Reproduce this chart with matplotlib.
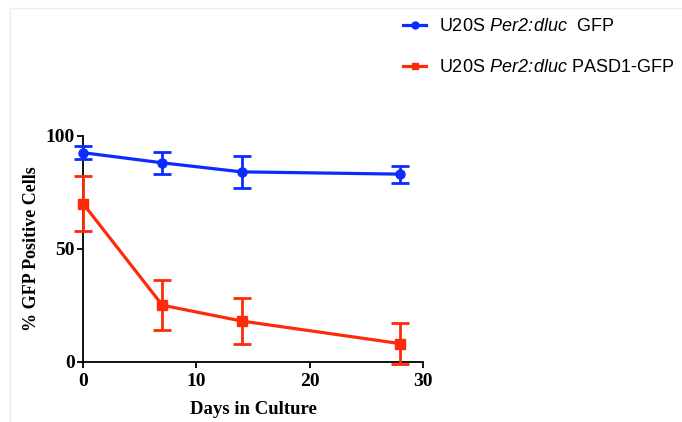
import matplotlib
matplotlib.use('Agg')
import matplotlib.pyplot as plt
from matplotlib.lines import Line2D

# datos
days = [0, 7, 14, 28]
gfp_mean = [92.5, 88, 84, 83]
gfp_err = [3, 5, 7, 3.8]
pasd1_mean = [70, 25, 18, 8]
pasd1_err = [12, 11, 10, 9]

blue = '#0a2cff'
red = '#ff2a0a'

plt.rcParams['mathtext.fontset'] = 'custom'
plt.rcParams['mathtext.it'] = 'Liberation Sans:italic'
plt.rcParams['mathtext.rm'] = 'Liberation Sans:italic'

fig = plt.figure(figsize=(6.82, 4.22), dpi=100)
ax = fig.add_axes([0.1217, 0.1429, 0.4985, 0.5355])

ax.errorbar(days, gfp_mean, yerr=gfp_err, color=blue, marker='o', markersize=6.5,
            linewidth=2.3, elinewidth=2, capsize=6.5, capthick=2, clip_on=False, zorder=3)
ax.errorbar(days, pasd1_mean, yerr=pasd1_err, color=red, marker='s', markersize=6.5,
            linewidth=2.3, elinewidth=2, capsize=6.5, capthick=2, clip_on=False, zorder=3)

ax.set_xlim(0, 30)
ax.set_ylim(0, 100)
ax.set_xticks([0, 10, 20, 30])
ax.set_yticks([0, 50, 100])
ax.spines['top'].set_visible(False)
ax.spines['right'].set_visible(False)
for s in ['left', 'bottom']:
    ax.spines[s].set_linewidth(1.3)
ax.tick_params(direction='out', length=4.5, width=1.3)
ax.tick_params(axis='y', pad=1.5)
ax.tick_params(axis='x', pad=3.5)

serif = {'family': 'Liberation Serif', 'weight': 'bold'}
for lab in ax.get_xticklabels() + ax.get_yticklabels():
    lab.set_fontproperties('Liberation Serif')
    lab.set_fontweight('bold')
    lab.set_fontsize(14)
ax.set_xlabel('Days in Culture', fontdict=serif, fontsize=13.5, labelpad=8)
ax.set_ylabel('% GFP Positive Cells', fontdict=serif, fontsize=13, labelpad=4)

# leyenda
handles = [
    Line2D([], [], color=blue, marker='o', markersize=5, linewidth=2.3),
    Line2D([], [], color=red, marker='s', markersize=5, linewidth=2.3),
]
labels = ['U20S $\\mathrm{Per2\\!:\\!dluc}$  GFP', 'U20S $\\mathrm{Per2\\!:\\!dluc}$ PASD1-GFP']
fig.legend(handles, labels, loc='upper left', bbox_to_anchor=(0.567, 0.995),
           frameon=False, prop={'family': 'Liberation Sans', 'size': 13},
           handlelength=1.3, labelspacing=1.3, handletextpad=0.7)

# borde tenue
fig.add_artist(Line2D([0.0147, 1.0], [0.981, 0.981], color='#eeeeee', linewidth=1))
fig.add_artist(Line2D([0.0147, 0.0147], [0.0, 0.981], color='#eeeeee', linewidth=1))

fig.savefig('out.png', dpi=100)
